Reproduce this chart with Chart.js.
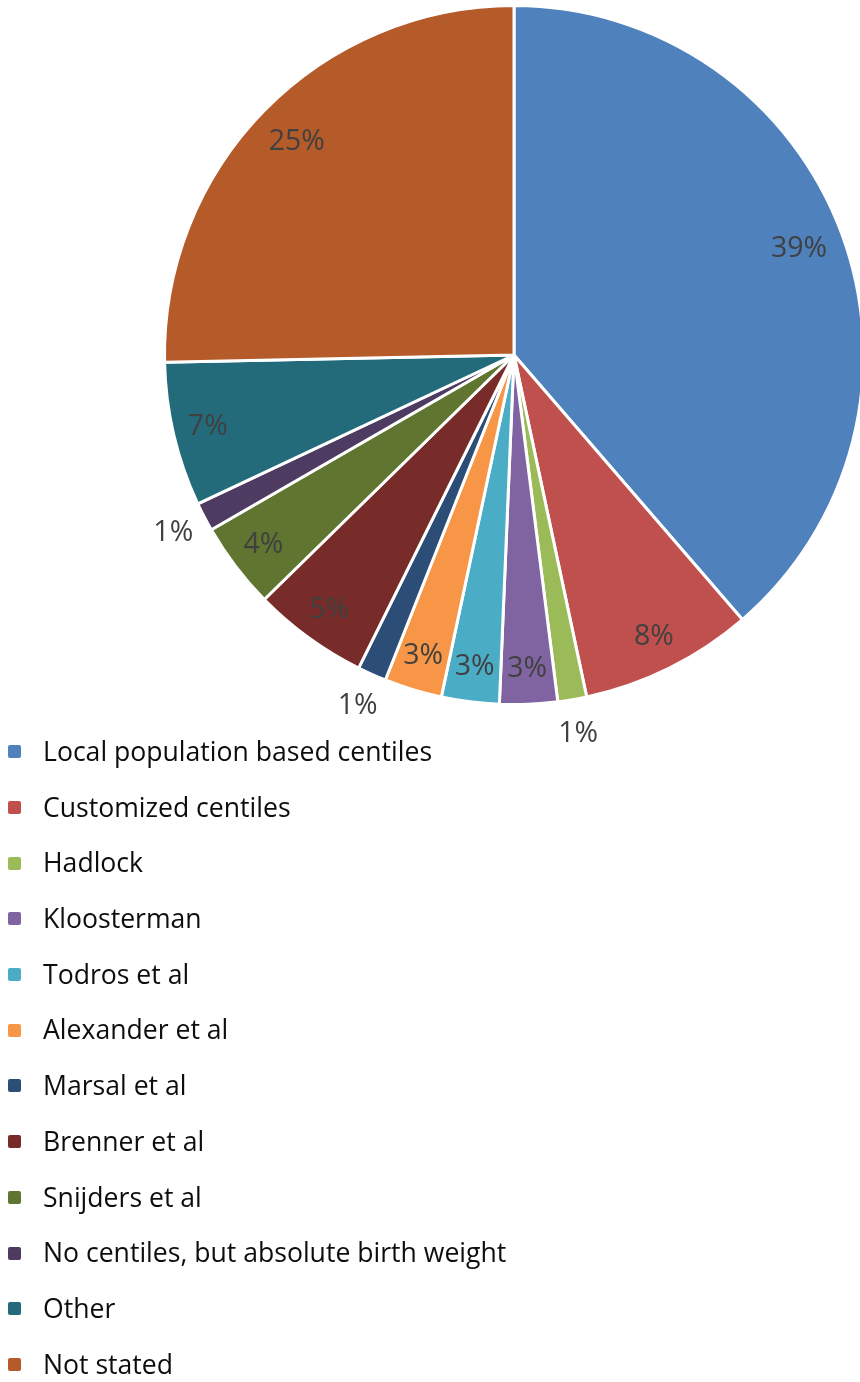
<!DOCTYPE html>
<html>
<head>
<meta charset="utf-8">
<script src="https://cdn.jsdelivr.net/npm/chart.js@4"></script>
<style>
  html, body { margin: 0; padding: 0; background: #fff; overflow: hidden; width: 860px; height: 1382px; }
  #pieWrap { position: absolute; left: 0; top: 0; width: 1028px; height: 768px; }
  #legend { position: absolute; left: 8px; top: 724px; margin: 0; padding: 0; list-style: none;
            font-family: "Open Sans", Lato, sans-serif; font-size: 26.6px; color: #0d0d0d; }
  #legend li { height: 55.7px; line-height: 55.7px; display: flex; align-items: center; white-space: nowrap; }
  #legend .box { width: 13px; height: 13px; border-radius: 2px; margin-right: 22px; }
</style>
</head>
<body>
<div id="pieWrap"><canvas id="pie"></canvas></div>
<ul id="legend"></ul>
<script>
// number of studies per birth weight reference
const categories = [
  'Local population based centiles',
  'Customized centiles',
  'Hadlock',
  'Kloosterman',
  'Todros et al',
  'Alexander et al',
  'Marsal et al',
  'Brenner et al',
  'Snijders et al',
  'No centiles, but absolute birth weight',
  'Other',
  'Not stated'
];
const counts = [29, 6, 1, 2, 2, 2, 1, 4, 3, 1, 5, 19];
const colors = ['#4F81BD', '#C0504D', '#9BBB59', '#8064A2', '#4BACC6', '#F79646',
                '#2C4D75', '#772C2A', '#5F7530', '#4D3B62', '#236B7A', '#B55A29'];

const total = counts.reduce((a, b) => a + b, 0);

// percent labels: inside the slice, or just outside for the thin ones
const pctLabels = {
  id: 'pctLabels',
  afterDatasetsDraw(chart) {
    const ctx = chart.ctx;
    const meta = chart.getDatasetMeta(0);
    ctx.save();
    ctx.font = '28.5px "Open Sans", Lato, sans-serif';
    ctx.fillStyle = '#404040';
    ctx.textAlign = 'center';
    ctx.textBaseline = 'middle';
    meta.data.forEach((arc, i) => {
      const p = arc.getProps(['x', 'y', 'startAngle', 'endAngle', 'outerRadius'], true);
      const mid = (p.startAngle + p.endAngle) / 2;
      const share = counts[i] / total;
      const r = p.outerRadius * (share < 0.02 ? 1.1 : share > 0.2 ? 0.87 : 0.9);
      const x = p.x + Math.cos(mid) * r;
      const y = p.y + Math.sin(mid) * r;
      ctx.fillText(Math.round(share * 100) + '%', x, y);
    });
    ctx.restore();
  }
};

const chart = new Chart(document.getElementById('pie'), {
  type: 'pie',
  data: {
    labels: categories,
    datasets: [{
      data: counts,
      backgroundColor: colors,
      borderColor: '#fff',
      borderWidth: 3
    }]
  },
  options: {
    responsive: true,
    maintainAspectRatio: false,
    animation: false,
    layout: { padding: { top: 4, bottom: 62 } },
    plugins: { legend: { display: false }, tooltip: { enabled: false } }
  },
  plugins: [pctLabels]
});

// legend list below the pie
const legendEl = document.getElementById('legend');
categories.forEach((name, i) => {
  const li = document.createElement('li');
  li.innerHTML = `<span class="box" style="background:${colors[i]}"></span>${name}`;
  legendEl.appendChild(li);
});
</script>
</body>
</html>
